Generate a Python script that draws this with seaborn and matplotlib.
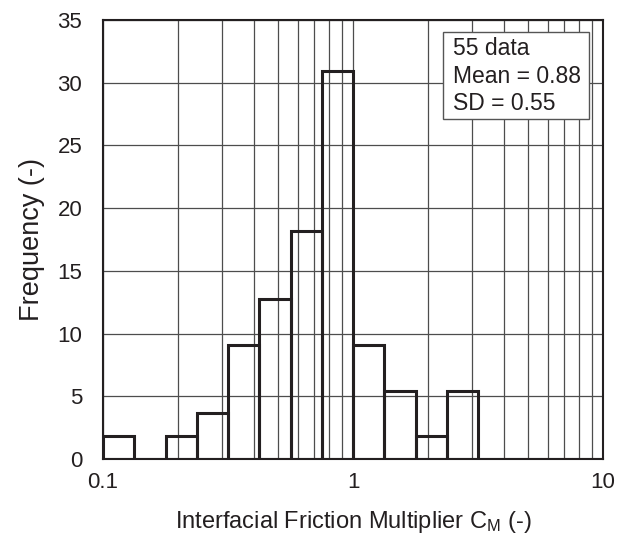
import numpy as np
import pandas as pd
import matplotlib
matplotlib.use("Agg")
import matplotlib.pyplot as plt
import matplotlib.patches as mpatches
import seaborn as sns
from matplotlib.ticker import LogLocator, FixedLocator, NullFormatter

# ---- data ----
# bin centres (log-spaced, 8 bins per decade from 0.1 to 10)
log_edges = np.linspace(-1.0, 1.0, 17)
bin_centres = 10 ** ((log_edges[:-1] + log_edges[1:]) / 2)
frequency = [1.82, 0.0, 1.82, 3.64, 9.09, 12.73, 18.18, 30.91,
             9.09, 5.45, 1.82, 5.45, 0.0, 0.0, 0.0, 0.0]
y_ticks = [0, 5, 10, 15, 20, 25, 30, 35]
x_ticks = [0.1, 1, 10]
x_tick_labels = ["0.1", "1", "10"]
stats_text = "55 data\nMean = 0.88\nSD = 0.55"

df = pd.DataFrame({"cm": bin_centres, "freq": frequency})

sns.set_style("white")
plt.rcParams["font.family"] = ["Liberation Sans", "DejaVu Sans"]
plt.rcParams["mathtext.fontset"] = "custom"
plt.rcParams["mathtext.rm"] = "Liberation Sans"
plt.rcParams["mathtext.it"] = "Liberation Sans"

ink = "#231f20"
fig = plt.figure(figsize=(6.3, 5.38), dpi=100)
ax = fig.add_axes([0.1635, 0.1468, 0.7937, 0.8160])

sns.histplot(data=df, x="cm", weights="freq", bins=16, binrange=(-1.0, 1.0),
             log_scale=True, fill=False, element="bars", color=ink,
             linewidth=2.2, ax=ax, zorder=3)

ax.set_xlim(0.1, 10)
ax.set_ylim(0, 35)
ax.set_yticks(y_ticks)
ax.set_yticklabels([str(v) for v in y_ticks])
ax.xaxis.set_major_locator(FixedLocator(x_ticks))
ax.set_xticklabels(x_tick_labels)
ax.xaxis.set_minor_locator(LogLocator(base=10, subs=np.arange(2, 10)))
ax.xaxis.set_minor_formatter(NullFormatter())

ax.grid(True, which="major", axis="both", color="#4d4d4d", linewidth=0.9, zorder=0)
ax.grid(True, which="minor", axis="x", color="#4d4d4d", linewidth=0.9, zorder=0)
ax.set_axisbelow(True)

ax.tick_params(axis="both", which="both", length=0, labelsize=16, colors=ink)
ax.tick_params(axis="x", pad=9)
ax.tick_params(axis="y", pad=15)
for s in ax.spines.values():
    s.set_color(ink)
    s.set_linewidth(1.5)

ax.set_xlabel("Interfacial Friction Multiplier C$_\\mathrm{M}$ (-)", fontsize=17,
              color=ink, labelpad=12)
ax.set_ylabel("Frequency (-)", fontsize=19.5, color=ink, labelpad=9)

box = mpatches.Rectangle((0.68, 0.7745), 0.292, 0.198, transform=ax.transAxes,
                         facecolor="white", edgecolor="#555555", linewidth=1.0,
                         zorder=5)
ax.add_patch(box)
ax.text(0.70, 0.872, stats_text, transform=ax.transAxes, fontsize=16.5,
        va="center", ha="left", linespacing=1.26, color=ink, zorder=6)

fig.savefig("out.png", dpi=100)
